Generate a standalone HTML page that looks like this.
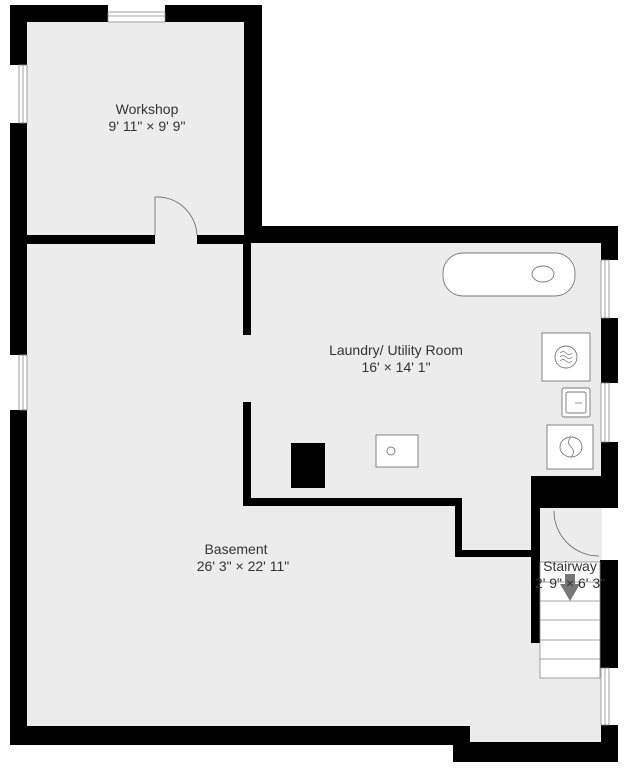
<!DOCTYPE html>
<html><head><style>body{margin:0;background:#fff}svg{display:block}text{font-family:"Liberation Sans",sans-serif;fill:#333;font-size:14px;text-anchor:middle}</style></head>
<body>
<svg width="626" height="768" viewBox="0 0 626 768">
<g fill="#ececec">
<rect x="27" y="22" width="218" height="720"/>
<rect x="245" y="243" width="357" height="250"/>
<rect x="245" y="490" width="290" height="240"/>
<rect x="530" y="505" width="72" height="225"/>
<rect x="450" y="725" width="155" height="20"/>
</g>
<g fill="#000">
<rect x="10" y="5" width="98" height="17"/>
<rect x="165" y="5" width="97" height="17"/>
<rect x="10" y="5" width="17" height="60"/>
<rect x="10" y="123" width="17" height="232"/>
<rect x="10" y="410" width="17" height="335"/>
<rect x="244" y="5" width="18" height="238"/>
<rect x="27" y="235" width="128" height="9"/>
<rect x="197" y="235" width="50" height="9"/>
<rect x="244" y="226" width="374" height="17"/>
<rect x="601" y="226" width="17" height="34"/>
<rect x="601" y="318" width="17" height="65"/>
<rect x="601" y="442" width="17" height="35"/>
<rect x="531" y="476" width="87" height="32"/>
<rect x="243" y="243" width="8" height="92"/>
<rect x="243" y="402" width="8" height="104"/>
<rect x="243" y="498" width="219" height="8"/>
<rect x="455" y="498" width="7" height="59"/>
<rect x="455" y="550" width="85" height="7"/>
<rect x="531" y="505" width="9" height="138"/>
<rect x="600" y="560" width="18" height="108"/>
<rect x="10" y="726" width="460" height="19"/>
<rect x="453" y="742" width="165" height="20"/>
<rect x="601" y="725" width="17" height="37"/>
<rect x="291" y="443" width="34" height="45"/>
</g>
<g fill="#fff" stroke="#888" stroke-width="0.8">
<rect x="108" y="12" width="57" height="10"/>
<line x1="108" y1="16" x2="165" y2="16"/>
<rect x="19" y="65" width="8" height="58"/>
<line x1="23" y1="65" x2="23" y2="123"/>
<rect x="19" y="355" width="8" height="55"/>
<line x1="23" y1="355" x2="23" y2="410"/>
<rect x="601" y="260" width="8" height="58"/>
<line x1="605" y1="260" x2="605" y2="318"/>
<rect x="601" y="383" width="8" height="59"/>
<line x1="605" y1="383" x2="605" y2="442"/>
<rect x="601" y="668" width="8" height="57"/>
<line x1="605" y1="668" x2="605" y2="725"/>
</g>
<g fill="none" stroke="#666" stroke-width="0.8">
<path d="M155 235 V197 A40 40 0 0 1 197 235"/>
<path d="M554 511 A45 45 0 0 0 599 556"/>
</g>
<g fill="#fff" stroke="#888" stroke-width="0.8">
<rect x="540" y="562" width="60" height="116"/>
<line x1="540" y1="582" x2="600" y2="582"/>
<line x1="540" y1="601" x2="600" y2="601"/>
<line x1="540" y1="620" x2="600" y2="620"/>
<line x1="540" y1="640" x2="600" y2="640"/>
<line x1="540" y1="659" x2="600" y2="659"/>
</g>
<path d="M565 574 h10 v10 h5 l-10 17 l-10 -17 h5z" fill="#777"/>
<g fill="#fff" stroke="#777" stroke-width="0.9">
<rect x="443" y="253" width="132" height="43" rx="20"/>
<ellipse cx="543" cy="274" rx="11" ry="8"/>
<rect x="542" y="333" width="48" height="48"/>
<circle cx="566" cy="357" r="11"/>
<rect x="562" y="388" width="28" height="29" rx="2"/>
<rect x="566" y="392" width="20" height="21" rx="2"/>
<rect x="547" y="425" width="46" height="44"/>
<ellipse cx="571" cy="447" rx="11" ry="10"/>
<rect x="376" y="435" width="42" height="32"/>
<circle cx="391" cy="451" r="4"/>
</g>
<g fill="none" stroke="#777" stroke-width="0.8">
<path d="M560 353 q3 -3 6 0 t6 0 M560 357 q3 -3 6 0 t6 0 M560 361 q3 -3 6 0 t6 0"/>
<path d="M571 437 q-5 5 0 10 t0 10"/>
<line x1="575" y1="403" x2="582" y2="403"/>
</g>
<text x="147" y="114">Workshop</text>
<text x="147" y="131">9' 11" × 9' 9"</text>
<text x="396" y="355">Laundry/ Utility Room</text>
<text x="396" y="372">16' × 14' 1"</text>
<text x="236" y="554">Basement</text>
<text x="243" y="571">26' 3" × 22' 11"</text>
<text x="570" y="571">Stairway</text>
<text x="570" y="588">2' 9" × 6' 3"</text>
</svg>
</body></html>
